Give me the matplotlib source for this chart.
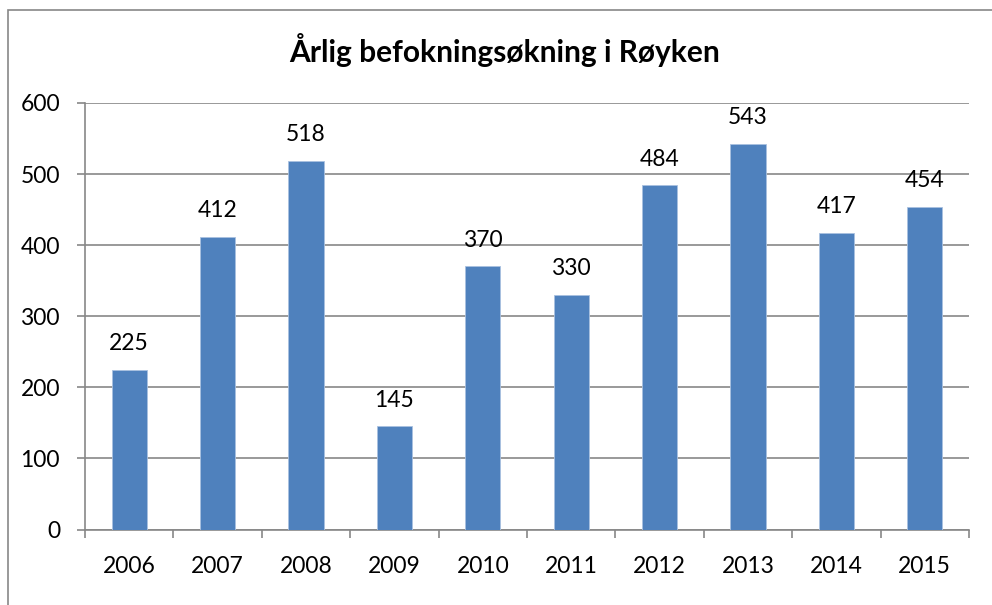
import numpy as np
import matplotlib
matplotlib.use('Agg')
import matplotlib.pyplot as plt
from matplotlib.patches import Rectangle

years = ['2006', '2007', '2008', '2009', '2010', '2011', '2012', '2013', '2014', '2015']
growth = [225, 412, 518, 145, 370, 330, 484, 543, 417, 454]
title = 'Årlig befokningsøkning i Røyken'

plt.rcParams['font.family'] = ['Lato', 'DejaVu Sans']

W, H = 992, 605
fig = plt.figure(figsize=(W / 100, H / 100), dpi=100)
fig.patch.set_facecolor('white')

# chart-area border (runs off the right and bottom edge of the crop)
fig.patches.append(Rectangle((8 / W, -0.1), 1.2, 1 - 10 / H + 0.1,
                             transform=fig.transFigure, fill=False,
                             edgecolor='#878787', linewidth=1.2))

ax = fig.add_axes([85 / W, 1 - 529.5 / H, (969 - 85) / W, (529.5 - 103) / H])
x = np.arange(len(years))
bars = ax.bar(x, growth, width=0.4, color='#4F81BD', edgecolor='#A9C1E0',
              linewidth=0.6, zorder=3)

for xi, v in zip(x, growth):
    ax.annotate(str(v), (xi, v), xytext=(0, 19), textcoords='offset points',
                ha='center', va='center', fontsize=16.5)

ax.set_xlim(-0.5, len(years) - 0.5)
ax.set_ylim(0, 600)
ax.set_yticks(range(0, 601, 100))
ax.set_xticks(x)
ax.set_xticklabels(years)
ax.set_xticks(np.arange(-0.5, len(years)), minor=True)
ax.tick_params(axis='x', which='major', length=0, pad=19, labelsize=16.5)
ax.tick_params(axis='x', which='minor', length=6, width=1.2, color='#878787', direction='out')
ax.tick_params(axis='y', length=6, width=1.2, color='#878787', pad=12, labelsize=16.5)

ax.grid(axis='y', color='#878787', linewidth=1.2, zorder=0)
for side in ['top', 'right']:
    ax.spines[side].set_visible(False)
for side in ['left', 'bottom']:
    ax.spines[side].set_color('#878787')
    ax.spines[side].set_linewidth(1.2)

fig.text(505 / W, 1 - 50 / H, title, ha='center', va='center',
         fontsize=21.5, fontweight='bold')

fig.savefig('out.png', dpi=100)
